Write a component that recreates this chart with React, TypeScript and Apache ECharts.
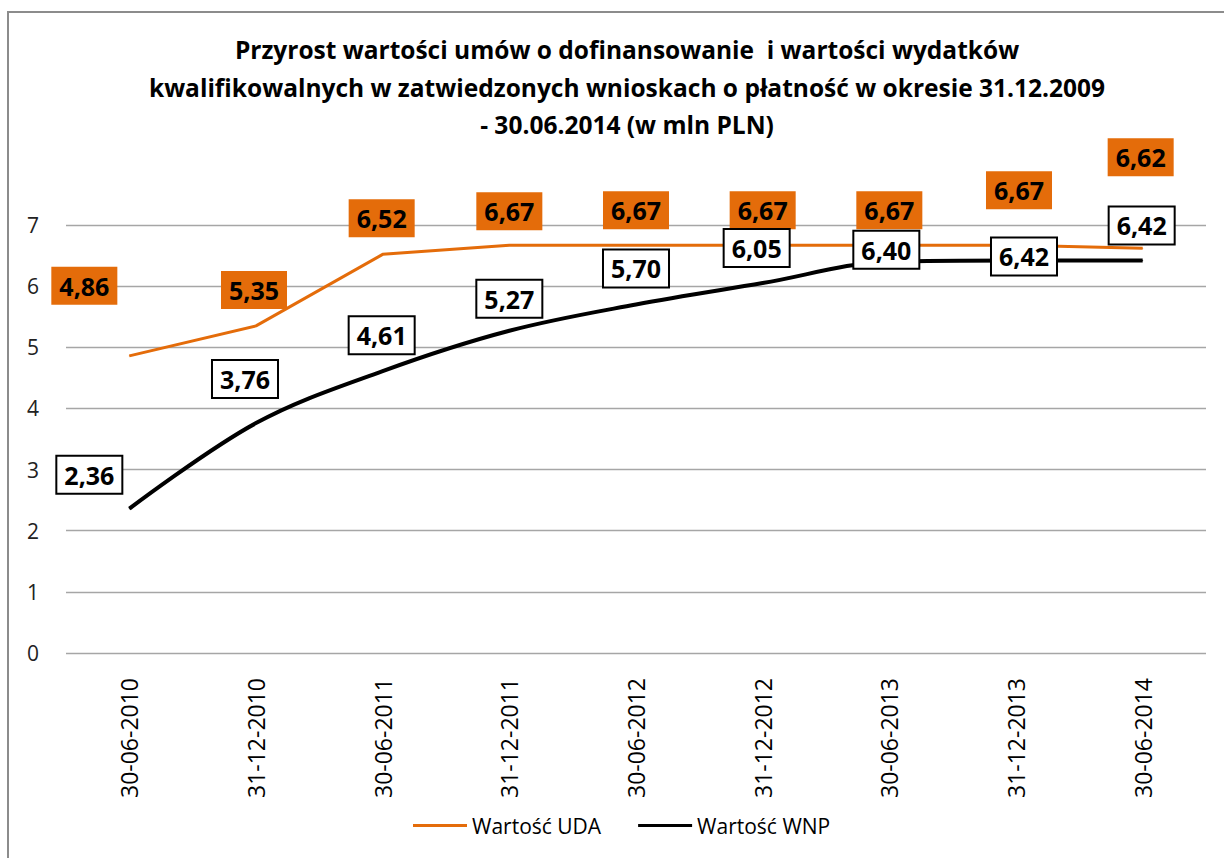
import React, { useEffect, useRef } from "react";
import * as echarts from "echarts";

const categories = [
  "30-06-2010", "31-12-2010", "30-06-2011", "31-12-2011", "30-06-2012",
  "31-12-2012", "30-06-2013", "31-12-2013", "30-06-2014",
];
const udaValues = [4.86, 5.35, 6.52, 6.67, 6.67, 6.67, 6.67, 6.67, 6.62];
const wnpValues = [2.36, 3.76, 4.61, 5.27, 5.70, 6.05, 6.40, 6.42, 6.42];
const yTicks = { min: 0, max: 7, interval: 1 };

// label placement offsets (styling only)
const udaLabelOffsets = [
  [-45, -70], [-2, -36], [-1, -36], [0, -34], [0, -35], [0, -35], [0, -35], [3, -55], [-2, -91],
];
const wnpLabelOffsets = [
  [-40, -34], [-11, -44], [-1, -36], [0, -32], [0, -36], [-6, -35], [-3, -12], [8, -4], [-1, -35],
];

const ORANGE = "#E46C0A";
const FONT = "'Open Sans', 'Noto Sans', sans-serif";
const fmt = (v: number) => v.toFixed(2).replace(".", ",");

export default function App() {
  const ref = useRef<HTMLDivElement>(null);
  useEffect(() => {
    if (!ref.current) return;
    const chart = echarts.init(ref.current, null, { renderer: "svg" });
    const labelBase = {
      show: true,
      position: "inside",
      fontFamily: FONT,
      fontWeight: "bold",
      fontSize: 25,
      color: "#000",
      padding: [7, 8, 6, 8],
      formatter: (p: any) => fmt(p.value),
    };
    chart.setOption({
      animation: false,
      textStyle: { fontFamily: FONT },
      graphic: [
        {
          type: "rect",
          shape: { x: 8, y: 12, width: 1240, height: 900 },
          style: { fill: "none", stroke: "#8c8c8c", lineWidth: 2 },
          silent: true,
        },
      ],
      title: {
        text:
          "Przyrost wartości umów o dofinansowanie  i wartości wydatków\nkwalifikowalnych w zatwiedzonych wnioskach o płatność w okresie 31.12.2009\n- 30.06.2014 (w mln PLN)",
        left: 622,
        top: 26,
        textAlign: "center",
        textStyle: {
          fontFamily: FONT,
          fontWeight: "bold",
          fontSize: 24.5,
          lineHeight: 37.5,
          color: "#000",
        },
      },
      legend: {
        bottom: 17,
        left: 408,
        itemGap: 37,
        itemWidth: 54,
        itemHeight: 3,
        icon: "rect",
        textStyle: { fontFamily: FONT, fontSize: 21, color: "#000" },
        data: ["Wartość UDA", "Wartość WNP"],
      },
      grid: { left: 66, right: 18, top: 225, bottom: 205 },
      xAxis: {
        type: "category",
        data: categories,
        boundaryGap: true,
        axisLine: { show: false },
        axisTick: { show: false },
        axisLabel: {
          rotate: 90,
          margin: 25,
          fontFamily: FONT,
          fontSize: 23,
          fontWeight: 500,
          color: "#000",
          interval: 0,
        },
      },
      yAxis: {
        type: "value",
        min: yTicks.min,
        max: yTicks.max,
        interval: yTicks.interval,
        axisLine: { show: false },
        axisTick: { show: false },
        axisLabel: { margin: 27, fontFamily: FONT, fontSize: 21, color: "#222" },
        splitLine: { lineStyle: { color: "#a6a6a6", width: 1.3 } },
      },
      series: [
        {
          name: "Wartość UDA",
          type: "line",
          data: udaValues.map((v, i) => ({
            value: v,
            label: { offset: udaLabelOffsets[i] },
          })),
          symbol: "circle",
          symbolSize: 1,
          showSymbol: true,
          itemStyle: { color: ORANGE },
          lineStyle: { color: ORANGE, width: 3 },
          label: { ...labelBase, backgroundColor: ORANGE },
          z: 2,
        },
        {
          name: "Wartość WNP",
          type: "line",
          smooth: 0.35,
          data: wnpValues.map((v, i) => ({
            value: v,
            label: { offset: wnpLabelOffsets[i] },
          })),
          symbol: "circle",
          symbolSize: 1,
          showSymbol: true,
          itemStyle: { color: "#000" },
          lineStyle: { color: "#000", width: 4 },
          label: {
            ...labelBase,
            backgroundColor: "#fff",
            borderColor: "#000",
            borderWidth: 2,
            padding: [6, 7, 5, 7],
          },
          z: 3,
        },
      ],
    });
    return () => chart.dispose();
  }, []);
  return (
    <div
      ref={ref}
      style={{ position: "fixed", left: 0, top: 0, width: 1224, height: 858, background: "#fff" }}
    />
  );
}
